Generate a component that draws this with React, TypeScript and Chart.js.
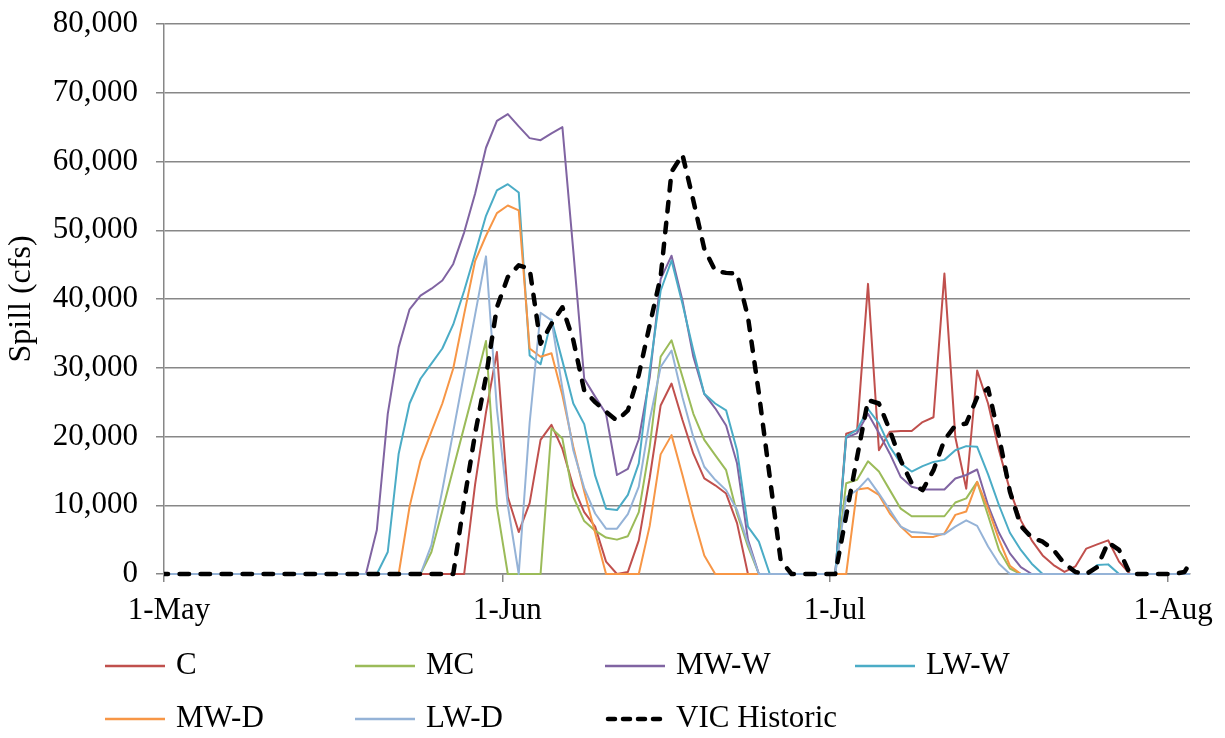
import React, { useEffect, useRef } from 'react';
import { Chart, registerables } from 'chart.js';

Chart.register(...registerables);

// First value in each series is 30-Apr (day -1 relative to 1-May); last is 3-Aug.
const firstDayOffset = -1;
const xMin = 0;
const xMax = 94;
const xTickDays = [0, 31, 61, 92];
const xTickLabels = ['1-May', '1-Jun', '1-Jul', '1-Aug'];
const yMax = 80000;
const yStep = 10000;
const yTitle = 'Spill (cfs)';

const seriesNames = ['C', 'MC', 'MW-W', 'LW-W', 'MW-D', 'LW-D', 'VIC Historic'];
const seriesColors = ['#C0504D', '#9BBB59', '#8064A2', '#4BACC6', '#F79646', '#95B3D7', '#000000'];

const C = [
  0, 0, 0, 0, 0, 0, 0, 0, 0, 0,
  0, 0, 0, 0, 0, 0, 0, 0, 0, 0,
  0, 0, 0, 0, 0, 0, 0, 0, 0,
  13000, 23500, 32300, 11200, 6100, 10300, 19500, 21700, 18200, 12700,
  9000, 6900, 1800, 0, 300, 4900, 14000, 24500, 27700, 22400,
  17500, 13900, 12900, 11700, 7400, 0,
  0, 0, 0, 0, 0, 0, 0, 0,
  20400, 20900, 42200, 18000, 20700, 20800, 20800, 22100, 22800, 43700,
  19900, 12400, 29600, 24800, 18000, 12200, 7800, 4900, 2700, 1300,
  300, 1100, 3700, 4300, 4900, 1800, 0,
  0, 0, 0, 0, 0, 0,
];

const MC = [
  0, 0, 0, 0, 0, 0, 0, 0, 0, 0,
  0, 0, 0, 0, 0, 0, 0, 0, 0, 0,
  0, 0, 0, 0, 0,
  3200, 9200, 15300, 21400, 27500, 33900, 9800, 0, 0, 0,
  0, 21200, 19700, 11200, 7700, 6300, 5300, 5000, 5500, 9000,
  18500, 31600, 34000, 28700, 23300, 19500, 17300, 15100, 8800, 4000,
  0,
  0, 0, 0, 0, 0, 0, 0,
  13200, 13700, 16400, 14900, 12200, 9500, 8400, 8400, 8400, 8400,
  10400, 11000, 13400, 8500, 3500, 800,
  0, 0, 0, 0, 0, 0, 0, 0, 0, 0,
  0, 0, 0, 0, 0, 0, 0,
];

const MW_W = [
  0, 0, 0, 0, 0, 0, 0, 0, 0, 0,
  0, 0, 0, 0, 0, 0, 0, 0, 0, 0,
  6400, 23300, 33000, 38500, 40500, 41500, 42700, 45100, 49700, 55300,
  62000, 65900, 66900, 65100, 63400, 63100, 64100, 65000, 47000, 28400,
  25800, 23300, 14400, 15300, 19600, 28600, 42900, 46300, 39800, 31600,
  26200, 24100, 21600, 16100, 5000, 0,
  0, 0, 0, 0, 0, 0, 0,
  19800, 20500, 23300, 20500, 17500, 14100, 12700, 12300, 12300, 12300,
  13900, 14400, 15200, 10000, 6000, 3000, 1000, 0,
  0, 0, 0, 0, 0, 0, 0, 0, 0, 0,
  0, 0, 0, 0, 0,
];

const LW_W = [
  0, 0, 0, 0, 0, 0, 0, 0, 0, 0,
  0, 0, 0, 0, 0, 0, 0, 0, 0, 0,
  0,
  3200, 17500, 24800, 28400, 30600, 32800, 36300, 41200, 46600, 52100,
  55800, 56700, 55500, 31800, 30500, 37000, 31000, 24800, 21800, 14300,
  9500, 9300, 11500, 16100, 29600, 41200, 45600, 39300, 32500, 26200,
  24800, 23800, 18000, 6900, 4700, 0,
  0, 0, 0, 0, 0, 0,
  20000, 21000, 24000, 21900, 18500, 16100, 14900, 15700, 16300, 16600,
  18000, 18600, 18500, 14500, 10000, 6000, 3500, 1500, 0, 0,
  0, 0, 0, 1300, 1400, 0,
  0, 0, 0, 0, 0, 0, 0,
];

const MW_D = [
  0, 0, 0, 0, 0, 0, 0, 0, 0, 0,
  0, 0, 0, 0, 0, 0, 0, 0, 0, 0,
  0, 0, 0,
  9800, 16500, 20700, 24800, 29900, 37800, 45500, 49200, 52500, 53600,
  52900, 32800, 31600, 32100, 26000, 18500, 12000, 6000, 0, 0,
  0, 0, 7000, 17400, 20200, 14400, 8300, 2700, 0,
  0, 0, 0, 0, 0, 0, 0, 0, 0, 0,
  0, 0,
  12300, 12500, 11500, 8800, 6900, 5400, 5400, 5400, 5900, 8600,
  9100, 13400, 9500, 5000, 1200,
  0, 0, 0, 0, 0, 0, 0, 0, 0, 0,
  0, 0, 0, 0, 0, 0, 0,
];

const LW_D = [
  0, 0, 0, 0, 0, 0, 0, 0, 0, 0,
  0, 0, 0, 0, 0, 0, 0, 0, 0, 0,
  0, 0, 0, 0, 0,
  4200, 12200, 20700, 29200, 37700, 46200, 24000, 10000, 0, 22000,
  38000, 36900, 27000, 18000, 12500, 8800, 6600, 6600, 8700, 12700,
  22400, 30100, 32500, 25700, 19900, 15600, 13700, 12200, 9300, 4500,
  0,
  0, 0, 0, 0, 0, 0, 0,
  11200, 12200, 13900, 11700, 9300, 6900, 6100, 6000, 5800, 5800,
  6900, 7800, 7000, 4000, 1500,
  0, 0, 0, 0, 0, 0, 0, 0, 0, 0,
  0, 0, 0, 0, 0, 0, 0, 0,
];

const VIC_HISTORIC = [
  0, 0, 0, 0, 0, 0, 0, 0, 0, 0,
  0, 0, 0, 0, 0, 0, 0, 0, 0, 0,
  0, 0, 0, 0, 0, 0, 0, 0,
  10600, 20400, 28700, 38800, 43200, 44900, 44400, 33500, 36400, 38800,
  34000, 26700, 25000, 23600, 22300, 23800, 29000, 36200, 43200, 58500,
  61000, 54300, 47300, 44100, 43800, 43700, 37400, 26300, 14100, 2000,
  0,
  0, 0, 0, 0,
  8500, 17000, 25300, 24800, 20900, 16500, 13200, 12200, 15100, 19500,
  21600, 21900, 25700, 27000, 20000, 12000, 7000, 5300, 4700, 3500,
  1500, 300, 0, 1000, 4600, 3500, 0, 0, 0, 0,
  0, 300, 3000,
];

const seriesValues = [C, MC, MW_W, LW_W, MW_D, LW_D, VIC_HISTORIC];

const FONT_FAMILY = "'Liberation Serif', 'Times New Roman', serif";
const FONT_SIZE = 31;
const GRID_COLOR = '#878787';

const legendPlugin = {
  id: 'gridLegend',
  afterDraw(chart: any) {
    const ctx = chart.ctx;
    ctx.save();
    chart.data.datasets.forEach((ds: any, k: number) => {
      const col = k % 4;
      const row = Math.floor(k / 4);
      const x = 105 + col * 250;
      const y = 666 + row * 53;
      ctx.beginPath();
      ctx.strokeStyle = ds.borderColor;
      if (ds.borderDash && ds.borderDash.length) {
        ctx.lineWidth = 4.5;
        ctx.lineCap = 'round';
        ctx.setLineDash([7, 8]);
        ctx.moveTo(x + 3, y);
        ctx.lineTo(x + 60, y);
      } else {
        ctx.lineWidth = 2.5;
        ctx.lineCap = 'butt';
        ctx.setLineDash([]);
        ctx.moveTo(x, y);
        ctx.lineTo(x + 60, y);
      }
      ctx.stroke();
      ctx.setLineDash([]);
      ctx.fillStyle = '#000';
      ctx.font = `${FONT_SIZE}px ${FONT_FAMILY}`;
      ctx.textBaseline = 'middle';
      ctx.textAlign = 'left';
      ctx.fillText(ds.label, x + 71, y);
    });
    ctx.restore();
  },
};

export default function App() {
  const canvasRef = useRef<HTMLCanvasElement | null>(null);

  useEffect(() => {
    if (!canvasRef.current) return;
    const xs = C.map((_, i) => i + firstDayOffset + 0.5);
    const datasets = seriesNames.map((name, k) => {
      const isVic = k === seriesNames.length - 1;
      return {
        label: name,
        data: seriesValues[k].map((v, i) => ({ x: xs[i], y: v })),
        borderColor: seriesColors[k],
        backgroundColor: seriesColors[k],
        borderWidth: isVic ? 4.5 : 2,
        borderDash: isVic ? [9.5, 11.5] : [],
        borderCapStyle: isVic ? 'round' : 'butt',
        borderJoinStyle: 'round',
        pointRadius: 0,
        tension: 0,
        fill: false,
        clip: { left: 0, right: 0, top: 6, bottom: 6 },
        order: seriesNames.length - k,
      };
    });

    const chart = new Chart(canvasRef.current, {
      type: 'line',
      data: { datasets } as any,
      plugins: [legendPlugin],
      options: {
        animation: false,
        responsive: true,
        maintainAspectRatio: false,
        devicePixelRatio: 1,
        layout: { padding: { top: 24, right: 35, bottom: 104, left: 0 } },
        plugins: {
          legend: { display: false },
          tooltip: { enabled: false },
          title: { display: false },
        },
        scales: {
          x: {
            type: 'linear',
            min: xMin,
            max: xMax,
            afterBuildTicks: (scale: any) => {
              scale.ticks = xTickDays.map((v) => ({ value: v }));
            },
            afterFit: (scale: any) => {
              scale.height = 60;
              scale.paddingLeft = 0;
              scale.paddingRight = 0;
            },
            ticks: {
              autoSkip: false,
              maxRotation: 0,
              padding: 10,
              labelOffset: 5,
              color: '#000',
              font: { family: FONT_FAMILY, size: FONT_SIZE },
              callback: (v: any) => {
                const idx = xTickDays.indexOf(Number(v));
                return idx >= 0 ? xTickLabels[idx] : '';
              },
            },
            grid: {
              drawOnChartArea: false,
              drawTicks: true,
              tickLength: 8,
              color: GRID_COLOR,
              lineWidth: 1.5,
            },
            border: { display: true, color: GRID_COLOR, width: 1.5 },
          },
          y: {
            type: 'linear',
            min: 0,
            max: yMax,
            afterFit: (scale: any) => {
              scale.width = 164;
              scale.paddingTop = 0;
              scale.paddingBottom = 0;
            },
            ticks: {
              stepSize: yStep,
              padding: 18,
              color: '#000',
              font: { family: FONT_FAMILY, size: FONT_SIZE },
              callback: (v: any) => Number(v).toLocaleString('en-US'),
            },
            grid: {
              color: GRID_COLOR,
              lineWidth: 1.5,
              drawTicks: true,
              tickLength: 8,
            },
            border: { display: true, color: GRID_COLOR, width: 1.5 },
            title: {
              display: true,
              text: yTitle,
              color: '#000',
              font: { family: FONT_FAMILY, size: 32 },
              padding: { top: 2, bottom: 0 },
            },
          },
        },
      } as any,
    });
    return () => chart.destroy();
  }, []);

  return (
    <div style={{ position: 'fixed', left: 0, top: 0, width: 1225, height: 738, background: '#fff' }}>
      <canvas ref={canvasRef} style={{ width: '100%', height: '100%' }} />
    </div>
  );
}
